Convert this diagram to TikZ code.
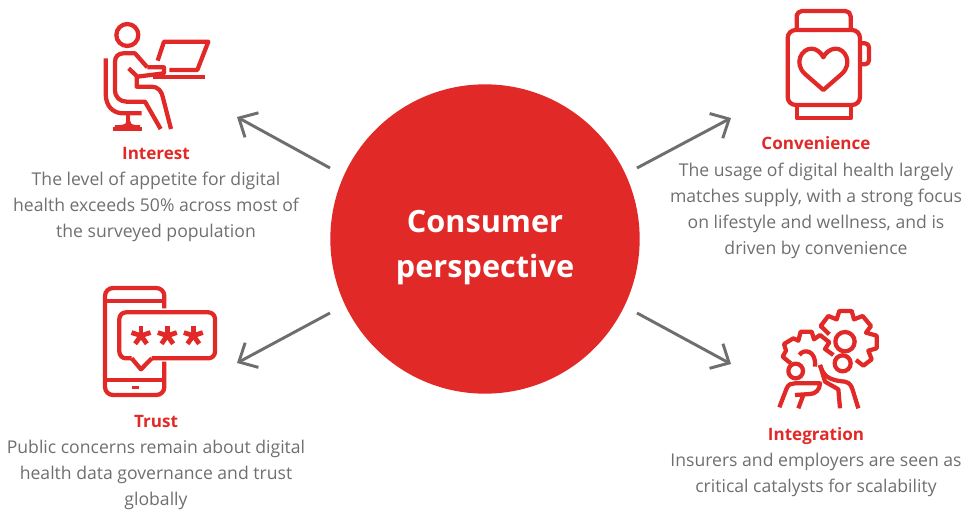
\documentclass[tikz,border=0pt]{standalone}
\usepackage{fontspec}
\setmainfont{Open Sans}
\usetikzlibrary{arrows.meta}
\definecolor{brandred}{HTML}{E12A27}
\definecolor{textgrey}{HTML}{6F6F6F}
\definecolor{arrowgrey}{HTML}{6E6E6E}
\tikzset{
  spoke/.style={draw=arrowgrey,line width=2.2pt,-{Straight Barb[length=11pt,width=21pt,line width=2.2pt]}},
  heading/.style={text=brandred,font=\fontsize{12.8}{15}\selectfont\bfseries,inner sep=0pt},
  blurb/.style={text=textgrey,font=\fontsize{13.2}{19.5}\selectfont,align=center,inner sep=0pt},
  icon/.style={draw=brandred,line width=3.2pt,line join=round,line cap=butt},
  zoomed/.style={x=0.25pt,y=-0.25pt}
}
\begin{document}
\begin{tikzpicture}[x=0.75pt,y=-0.75pt]
      \useasboundingbox (0,0) rectangle (966,510);

      \node[circle,fill=brandred,minimum size=232pt,inner sep=0pt] (centre) at (485,239) {};
      \node[align=center,text=white,inner sep=0pt,
            font=\fontsize{23}{33.8}\selectfont\bfseries] (centretext) at (485,248) {Consumer\\perspective};

      % arrows
      \coordinate (inA) at (330,168);  \coordinate (outA) at (237,117);
      \coordinate (inB) at (637,168);  \coordinate (outB) at (731,118);
      \coordinate (inC) at (330,313);  \coordinate (outC) at (237,363);
      \coordinate (inD) at (637,313);  \coordinate (outD) at (731,364);
      \foreach \w in {A,B,C,D}
      {\draw[spoke] (in\w) -- (out\w);
      };

      % texts
      \node[heading] (interest) at (156,153) {Interest};
      \node[blurb] (interesttext) at (156,207) {The level of appetite for digital\\health exceeds 50\% across most of\\the surveyed population};
      \node[heading] (convenience) at (816,143) {Convenience};
      \node[blurb] (conveniencetext) at (816,211) {The usage of digital health largely\\matches supply, with a strong focus\\on lifestyle and wellness, and is\\driven by convenience};
      \node[heading] (trust) at (156,421) {Trust};
      \node[blurb] (trusttext) at (156,475) {Public concerns remain about digital\\health data governance and trust\\globally};
      \node[heading] (integration) at (816,436) {Integration};
      \node[blurb] (integrationtext) at (816,475) {Insurers and employers are seen as\\critical catalysts for scalability};

      % interest icon
      \begin{scope}[shift={(90,10)},zoomed]
        \draw[icon] (112,75) circle (33);
        \draw[icon] (47,145) -- (47,250) .. controls (47,290) and (70,310) .. (100,310) -- (155,310);
        \draw[icon] (115,310) -- (115,335);
        \draw[icon] (70,357) -- (155,357);
        \draw[icon] (75,352) .. controls (100,352) and (115,350) .. (115,335) .. controls (115,350) and (130,352) .. (150,352);
        \draw[icon] (172,172) -- (135,130) -- (100,130) .. controls (85,130) and (75,140) .. (75,155) -- (75,240)
              .. controls (75,262) and (90,275) .. (110,275) -- (165,275) -- (212,357);
        \draw[icon] (172,172) -- (222,172) -- (222,190) -- (142,200);
        \draw[icon] (116,175) -- (140,198) -- (140,230) -- (185,230) .. controls (205,230) and (215,245) .. (218,260) -- (243,357);
        \draw[icon] (190,200) -- (345,200);
        \draw[icon] (203,152) -- (222,95) -- (355,95) -- (322,180) -- (238,180);
      \end{scope}

      % convenience icon
      \begin{scope}[shift={(770,0)},zoomed]
        \draw[icon] (80,90) -- (80,45) [rounded corners=4pt] -- (80,33) -- (242,33) -- (242,90);
        \draw[icon,rounded corners=6pt] (53,90) rectangle (270,315);
        \draw[icon,rounded corners=3pt] (272,130) -- (297,130) -- (297,193) -- (272,193);
        \draw[icon] (80,316) -- (80,355) -- (242,355) -- (242,316);
        \draw[icon] (160,270) -- (105,222) .. controls (70,190) and (95,145) .. (125,146)
              .. controls (140,146) and (155,160) .. (160,172)
              .. controls (165,160) and (180,146) .. (197,146)
              .. controls (225,145) and (250,190) .. (215,222) -- cycle;
      \end{scope}

      % trust icon
      \begin{scope}[shift={(90,280)},zoomed]
        \draw[icon,rounded corners=6pt] (223,85) -- (223,24) -- (45,24) -- (45,345) -- (223,345) -- (223,245);
        \draw[icon] (45,62) -- (223,62);
        \draw[icon] (45,300) -- (223,300);
        \fill[brandred] (127,317) rectangle (147,328);
        \draw[icon,rounded corners=5pt] (125,235) -- (88,235) -- (88,97) -- (375,97) -- (375,235) -- (185,235);
        \draw[icon] (125,235) -- (153,268) -- (185,235);
        \foreach \x in {153,232,310}
        {\foreach \sep in {90,162,234,306,18}
         {\draw[icon,line width=3.6pt] (\x,167) -- +({30*cos(\sep)},{-30*sin(\sep)});
         }
        };
      \end{scope}

      % integration icon
      \begin{scope}[shift={(770,300)},zoomed]
        \draw[icon] (225,125) circle (29);
        \draw[icon] (218,190) circle (24);
        \draw[icon] (77,213) circle (22);
        \draw[icon] (178,103) -- (152,78) -- (175,48) -- (200,58) -- (208,33) -- (245,33) -- (252,58)
              -- (278,48) -- (303,78) -- (288,98) -- (320,107) -- (320,145) -- (295,152) -- (305,178)
              -- (280,197) -- (258,180);
        \draw[icon] (62,190) -- (38,170) -- (48,152) -- (42,132) -- (70,115) -- (85,122) -- (92,95) -- (125,95)
              -- (132,118) -- (150,105) -- (178,127) -- (165,147) -- (190,165);
        \draw[icon] (88,165) .. controls (100,145) and (140,150) .. (135,200);
        \draw[icon] (28,322) -- (50,265) .. controls (55,252) and (65,250) .. (75,250) -- (150,250)
              .. controls (150,270) and (135,282) .. (120,282) -- (75,285);
        \draw[icon] (100,285) -- (85,325);
        \draw[icon] (150,195) .. controls (160,225) and (170,240) .. (225,245) .. controls (240,248) and (245,260) .. (248,270) -- (265,325);
        \draw[icon] (150,195) -- (165,245) -- (205,268) -- (210,325);
      \end{scope}
    \end{tikzpicture}
\end{document}
